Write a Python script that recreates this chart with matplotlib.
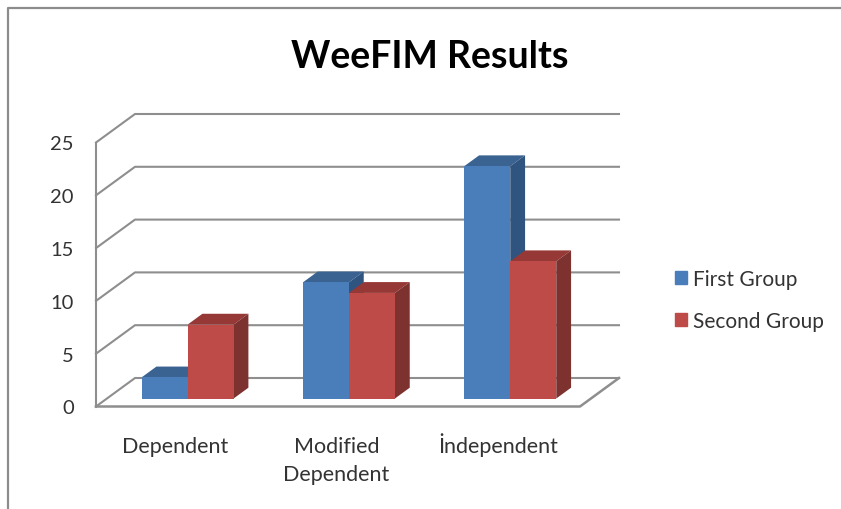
import matplotlib
matplotlib.use('Agg')
import matplotlib.pyplot as plt
from matplotlib.lines import Line2D
from matplotlib.patches import Patch
from matplotlib.transforms import ScaledTranslation

plt.rcParams['font.family'] = ['Lato', 'DejaVu Sans']

# Chart data
categories = ['Dependent', 'Modified\nDependent', 'İndependent']
first_group = [2, 11, 22]
second_group = [7, 10, 13]
series_names = ['First Group', 'Second Group']
y_ticks = [0, 5, 10, 15, 20, 25]

# Colours: front, top and side of the 3D bars
blue = ['#4A7EBB', '#3A6391', '#2F5480']
red = ['#BE4B48', '#953836', '#7D3230']
grid_col = '#8E8E8E'
text_col = '#333333'

W, H = 841, 510
fig = plt.figure(figsize=(W / 100, H / 100), dpi=100)

# Axes sit on the front plane of the fake 3D box
ax = fig.add_axes([96 / W, (H - 407.5) / H, 484 / W, 264 / H])
ax.set_xlim(0, len(categories))
ax.set_ylim(0, 25)
for s in ax.spines.values():
    s.set_visible(False)
ax.patch.set_visible(False)

# One unit of depth in data units (39 px across, 28.5 px up)
depth_x = 39 / (484 / 3)
depth_y = 28.5 / (264 / 25)


def project(x, v, d):
    return x + d * depth_x, v + d * depth_y


# Walls and floor
for v in y_ticks:
    pts = [project(0, v, 0), project(0, v, 1), project(3, v, 1)]
    ax.plot([p[0] for p in pts], [p[1] for p in pts], color=grid_col, lw=1.5,
            clip_on=False, zorder=1)
ax.plot([0, 0], [0, 25], color=grid_col, lw=1.5, clip_on=False, zorder=1)
pts = [project(0, 0, 0), project(3, 0, 0), project(3, 0, 1)]
ax.plot([p[0] for p in pts], [p[1] for p in pts], color=grid_col, lw=1.8,
        clip_on=False, zorder=1)

# Bars
bar_w = 46 / (484 / 3)
d0 = 0.28   # front of the bar
d1 = 0.66   # back of the bar


def draw_bar(x, value, cols, z):
    x0, v0 = project(x, 0, d0)
    ax.bar(x0, value, bar_w, bottom=v0, align='edge', color=cols[0],
           clip_on=False, zorder=z + 0.2)
    top = [project(x, value, d0), project(x + bar_w, value, d0),
           project(x + bar_w, value, d1), project(x, value, d1)]
    ax.fill([p[0] for p in top], [p[1] for p in top], color=cols[1], lw=0,
            clip_on=False, zorder=z)
    side = [project(x + bar_w, 0, d0), project(x + bar_w, value, d0),
            project(x + bar_w, value, d1), project(x + bar_w, 0, d1)]
    ax.fill([p[0] for p in side], [p[1] for p in side], color=cols[2], lw=0,
            clip_on=False, zorder=z)


for i in range(len(categories)):
    draw_bar(i + 0.5 - bar_w, first_group[i], blue, 2 + i)
    draw_bar(i + 0.5, second_group[i], red, 2.5 + i)

# Axis labels
ax.set_yticks(y_ticks)
ax.set_xticks([i + 0.5 for i in range(len(categories))])
ax.set_xticklabels(categories, linespacing=1.5)
ax.tick_params(axis='y', length=0, pad=16, labelsize=14.5, labelcolor=text_col)
ax.tick_params(axis='x', length=0, pad=21.5, labelsize=15.5, labelcolor=text_col)
# the dotted capital makes the last label box taller, so lift it back up
x_shifts = [(-1.5, 0), (-1.5, 0), (-1.5, 4)]
for lab, (dx, dy) in zip(ax.get_xticklabels(), x_shifts):
    shift = ScaledTranslation(dx / 100, dy / 100, fig.dpi_scale_trans)
    lab.set_transform(lab.get_transform() + shift)

# Title and legend
fig.text(430 / W, 1 - 57 / H, 'WeeFIM Results', ha='center', va='center',
         fontsize=27, fontweight='bold', color='black')
handles = [Patch(color=blue[0]), Patch(color=red[0])]
fig.legend(handles, series_names, loc='center left',
           bbox_to_anchor=(675 / W, 1 - 301 / H), frameon=False, fontsize=15,
           labelcolor=text_col, handlelength=0.58, handleheight=0.6,
           handletextpad=0.3, labelspacing=1.05, borderpad=0, borderaxespad=0)

# Chart frame, runs off the picture on the right and at the bottom
fig.add_artist(Line2D([8 / W, 8 / W, 1], [0, 1 - 9 / H, 1 - 9 / H],
                      color='#8C8C8C', lw=1.6))

fig.savefig('out.png', dpi=100)
